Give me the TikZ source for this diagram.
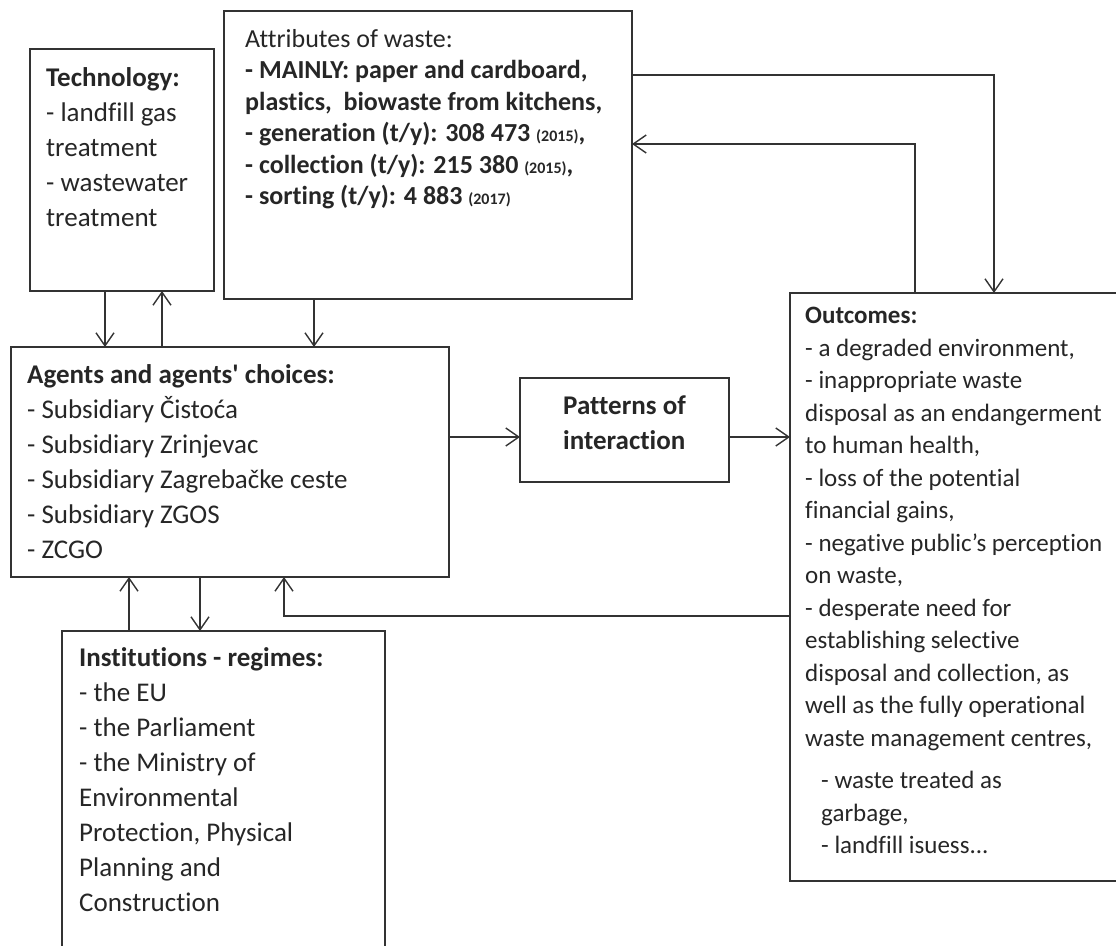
\documentclass[tikz,border=0pt]{standalone}
\usepackage{fontspec}
\setmainfont{Carlito}[Ligatures={TeX,NoCommon}]
\newfontfamily\straight{Carlito}[Ligatures=NoCommon]
\usetikzlibrary{arrows.meta}

\def\yr#1{{\fontsize{16pt}{16pt}\selectfont #1}}
\def\big{\fontsize{27pt}{35pt}\selectfont}

\begin{document}
\begin{tikzpicture}[x=1pt,y=-1pt,
    box/.style={draw=black!80,line width=1.5pt,anchor=north west,inner sep=0pt,outer sep=0pt},
    boxtext/.style={anchor=north west,align=left,inner sep=0pt,text=black!85,font=\big},
    arr/.style={draw=black!80,line width=1.4pt,-{Straight Barb[length=13pt,width=18pt]}}
    ]
    \useasboundingbox (0,0) rectangle (1116,945);
    \clip (0,0) rectangle (1116,945);

    % technology
    \node[box,minimum width=184pt,minimum height=242pt] (tech) at (30,49) {};
    \node[boxtext] (techtxt) at (46,67) {\textbf{Technology:}\\- landfill gas\\treatment\\- wastewater\\treatment};

    % attributes
    \node[box,minimum width=408pt,minimum height=288pt] (attr) at (224,11) {};
    \node[boxtext,font=\fontsize{26pt}{31.5pt}\selectfont] (attrtxt) at (245,29)
    {Attributes of waste:\\
     \textbf{- MAINLY: paper and cardboard,}\\
     \textbf{plastics,\ \ biowaste from kitchens,}\\
     \textbf{- generation (t/y): 308 473 \yr{(2015)},}\\
     \textbf{- collection (t/y): 215 380 \yr{(2015)},}\\
     \textbf{- sorting (t/y): 4 883 \yr{(2017)}}};

    % agents
    \node[box,minimum width=438pt,minimum height=230pt] (agents) at (11,347) {};
    \node[boxtext] (agentstxt) at (27,364)
    {\textbf{Agents and agents{\straight '} choices:}\\- Subsidiary Čistoća\\- Subsidiary Zrinjevac\\
     - Subsidiary Zagrebačke ceste\\- Subsidiary ZGOS\\- ZCGO};

    % patterns
    \node[box,minimum width=209pt,minimum height=104pt] (patt) at (520,378) {};
    \node[boxtext,anchor=center,font=\bfseries\big] (patttxt) at ([yshift=7pt]patt.center) {Patterns of\\interaction};

    % outcomes
    \node[box,minimum width=340pt,minimum height=588pt] (out) at (790,293) {};
    \node[boxtext,font=\fontsize{25pt}{32.5pt}\selectfont] (outtxt) at (805,307)
    {\textbf{Outcomes:}\\- a degraded environment,\\- inappropriate waste\\
     disposal as an endangerment\\to human health,\\- loss of the potential\\
     financial gains,\\- negative public’s perception\\on waste,\\
     - desperate need for\\establishing selective\\disposal and collection, as\\
     well as the fully operational\\waste management centres,\\[10pt]
     \hspace*{16pt}- waste treated as\\\hspace*{16pt}garbage,\\\hspace*{16pt}- landfill isuess...};

    % institutions
    \node[box,minimum width=323pt,minimum height=330pt] (inst) at (62,631) {};
    \node[boxtext] (insttxt) at (79,647)
    {\textbf{Institutions - regimes:}\\- the EU\\- the Parliament\\- the Ministry of\\
     Environmental\\Protection, Physical\\Planning and\\Construction};

    % arrows
    \draw[arr] (tech.south -| 105,0) -- (agents.north -| 105,0);
    \draw[arr] (agents.north -| 162,0) -- (tech.south -| 162,0);
    \draw[arr] (attr.south -| 314,0) -- (agents.north -| 314,0);
    \draw[arr] (agents.east |- 0,437) -- (patt.west |- 0,437);
    \draw[arr] (patt.east |- 0,437) -- (out.west |- 0,437);
    \draw[arr] (attr.east |- 0,75) -| (out.north -| 994,0);
    \draw[arr] (out.north -| 915,0) |- (attr.east |- 0,144);
    \draw[arr] (inst.north -| 129,0) -- (agents.south -| 129,0);
    \draw[arr] (agents.south -| 200,0) -- (inst.north -| 200,0);
    \draw[arr] (out.west |- 0,616) -| (agents.south -| 284,0);
\end{tikzpicture}
\end{document}
